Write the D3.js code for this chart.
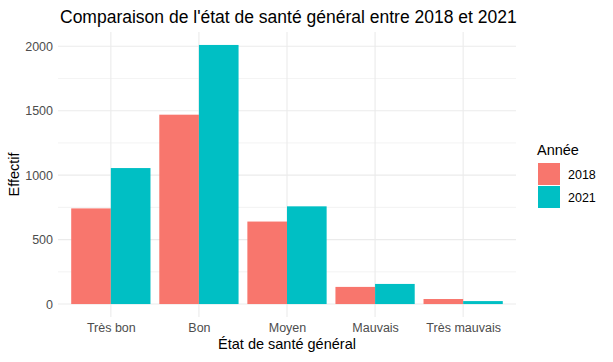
<!DOCTYPE html>
<html>
<head>
<meta charset="utf-8">
<script src="https://cdn.jsdelivr.net/npm/d3@7"></script>
<style>
  body { margin: 0; background: #fff; }
  svg { font-family: 'Liberation Sans', Arial, sans-serif; }
</style>
</head>
<body>
<svg id="chart" width="613" height="362"></svg>
<script>
const categories = ['Très bon', 'Bon', 'Moyen', 'Mauvais', 'Très mauvais']
const years = ['2018', '2021']
const values2018 = [742, 1469, 640, 133, 39]
const values2021 = [1055, 2010, 758, 156, 23]
const yTicks = [0, 500, 1000, 1500, 2000]
const colors = ['#F8766D', '#00BFC4']

const svg = d3.select('#chart')

const margin = { top: 32, right: 97, bottom: 45, left: 58 }
const width = 613 - margin.left - margin.right
const height = 362 - margin.top - margin.bottom

const data = categories.map((c, i) => ({ cat: c, vals: [values2018[i], values2021[i]] }))

// ggplot style discrete expansion (0.6 units each side)
const n = categories.length
const step = width / (n - 1 + 1.2)
const x = d3.scalePoint().domain(categories).range([0.6 * step, width - 0.6 * step])
const barW = step * 0.9

const maxV = d3.max(values2021.concat(values2018))
const y = d3.scaleLinear().domain([-maxV * 0.05, maxV * 1.05]).range([height, 0])

const g = svg.append('g').attr('transform', `translate(${margin.left},${margin.top})`)

// grid
const minor = [250, 750, 1250, 1750]
g.selectAll('.minor')
  .data(minor)
  .enter()
  .append('line')
  .attr('x1', 0)
  .attr('x2', width)
  .attr('y1', d => y(d))
  .attr('y2', d => y(d))
  .attr('stroke', '#EBEBEB')
  .attr('stroke-width', 0.6)

g.selectAll('.major')
  .data(yTicks)
  .enter()
  .append('line')
  .attr('x1', 0)
  .attr('x2', width)
  .attr('y1', d => y(d))
  .attr('y2', d => y(d))
  .attr('stroke', '#EBEBEB')
  .attr('stroke-width', 1.1)

g.selectAll('.vgrid')
  .data(categories)
  .enter()
  .append('line')
  .attr('x1', d => x(d))
  .attr('x2', d => x(d))
  .attr('y1', 0)
  .attr('y2', height)
  .attr('stroke', '#EBEBEB')
  .attr('stroke-width', 1.1)

// bars
const groups = g.selectAll('.grp')
  .data(data)
  .enter()
  .append('g')

groups.selectAll('rect')
  .data(d => d.vals.map((v, j) => ({ cat: d.cat, v, j })))
  .enter()
  .append('rect')
  .attr('x', d => x(d.cat) - barW / 2 + d.j * barW / 2)
  .attr('width', barW / 2)
  .attr('y', d => y(d.v))
  .attr('height', d => y(0) - y(d.v))
  .attr('fill', d => colors[d.j])

// axes
const yAxis = g.append('g')
  .call(d3.axisLeft(y).tickValues(yTicks).tickFormat(d3.format('d')).tickSize(0).tickPadding(5))
yAxis.select('.domain').remove()
yAxis.selectAll('text').attr('fill', '#4D4D4D').attr('font-size', '12.5px')

const xAxis = g.append('g')
  .attr('transform', `translate(0,${height})`)
  .call(d3.axisBottom(x).tickSize(0).tickPadding(6))
xAxis.select('.domain').remove()
xAxis.selectAll('text').attr('fill', '#4D4D4D').attr('font-size', '12.5px')

// titles
svg.append('text')
  .attr('x', margin.left + 2)
  .attr('y', 23)
  .attr('font-size', '17.5px')
  .attr('fill', '#000')
  .text("Comparaison de l'état de santé général entre 2018 et 2021")

svg.append('text')
  .attr('x', margin.left + width / 2)
  .attr('y', 349)
  .attr('text-anchor', 'middle')
  .attr('font-size', '14.5px')
  .attr('fill', '#000')
  .text('État de santé général')

svg.append('text')
  .attr('transform', `translate(19,${margin.top + height / 2}) rotate(-90)`)
  .attr('text-anchor', 'middle')
  .attr('font-size', '14.5px')
  .attr('fill', '#000')
  .text('Effectif')

// legend
const legend = svg.append('g').attr('transform', 'translate(537,140)')
legend.append('text')
  .attr('x', 0)
  .attr('y', 15)
  .attr('font-size', '14.5px')
  .attr('fill', '#000')
  .text('Année')

years.forEach((yr, i) => {
  legend.append('rect')
    .attr('x', 1)
    .attr('y', 23 + i * 23)
    .attr('width', 22)
    .attr('height', 22)
    .attr('fill', colors[i])
  legend.append('text')
    .attr('x', 31)
    .attr('y', 39 + i * 23)
    .attr('font-size', '12.5px')
    .attr('fill', '#000')
    .text(yr)
})
</script>
</body>
</html>
